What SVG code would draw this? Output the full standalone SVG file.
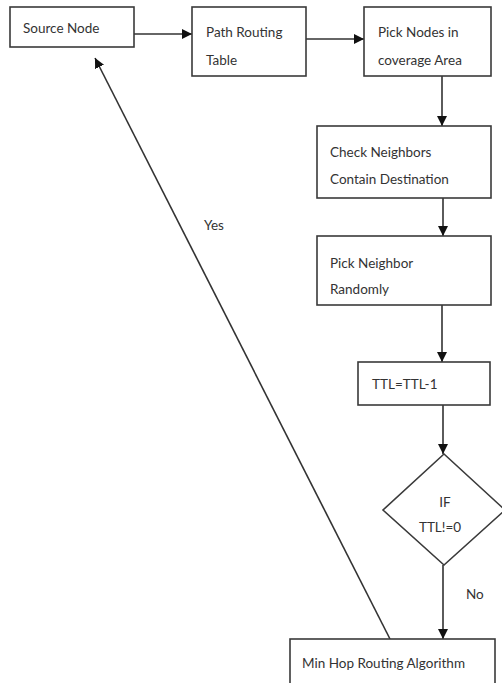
<svg xmlns="http://www.w3.org/2000/svg" width="502" height="683" viewBox="0 0 502 683">
<defs>
<style>
.box{fill:#fff;stroke:#3a3a3a;stroke-width:1.6}
.t{font-family:Lato,"Liberation Sans",sans-serif;font-size:13.5px;fill:#333}
.c{stroke:#333;stroke-width:1.6;fill:none;marker-end:url(#ah)}
</style>
<marker id="ah" viewBox="0 0 10 10" refX="10" refY="5" markerWidth="10" markerHeight="10" markerUnits="userSpaceOnUse" orient="auto">
<path d="M0,0 L10,5 L0,10 z" fill="#111"/>
</marker>
</defs>
<rect width="502" height="683" fill="#fff"/>
<g id="connectors">
<line class="c" x1="134" y1="34" x2="192" y2="34"/>
<line class="c" x1="306" y1="39" x2="364" y2="39"/>
<line class="c" x1="442" y1="76" x2="442" y2="126"/>
<line class="c" x1="443" y1="198" x2="443" y2="236"/>
<line class="c" x1="442" y1="305" x2="442" y2="362"/>
<line class="c" x1="443" y1="405" x2="443" y2="454"/>
<line class="c" x1="443" y1="565" x2="443" y2="639"/>
<line class="c" x1="390" y1="639" x2="95" y2="58"/>
<text class="t" x="204" y="230">Yes</text>
<text class="t" x="466" y="599">No</text>
</g>
<g id="source-node">
<rect class="box" x="10" y="7" width="124" height="40"/>
<text class="t" x="23" y="33">Source Node</text>
</g>
<g id="path-routing-table">
<rect class="box" x="192" y="7" width="114" height="69"/>
<text class="t" x="206" y="37">Path Routing</text>
<text class="t" x="206" y="65">Table</text>
</g>
<g id="pick-nodes">
<rect class="box" x="364" y="7" width="127" height="69"/>
<text class="t" x="378" y="37">Pick Nodes in</text>
<text class="t" x="378" y="65">coverage Area</text>
</g>
<g id="check-neighbors">
<rect class="box" x="317" y="126" width="174" height="72"/>
<text class="t" x="330" y="157">Check Neighbors</text>
<text class="t" x="330" y="184">Contain Destination</text>
</g>
<g id="pick-neighbor">
<rect class="box" x="317" y="236" width="174" height="69"/>
<text class="t" x="330" y="268">Pick Neighbor</text>
<text class="t" x="330" y="294">Randomly</text>
</g>
<g id="ttl-decrement">
<rect class="box" x="358" y="362" width="132" height="43"/>
<text class="t" x="372" y="389">TTL=TTL-1</text>
</g>
<g id="if-ttl">
<polygon class="box" points="444,454 505,510 444,565 383,510"/>
<text class="t" x="445" y="507" text-anchor="middle">IF</text>
<text class="t" x="440" y="532" text-anchor="middle">TTL!=0</text>
</g>
<g id="min-hop">
<rect class="box" x="290" y="639" width="205" height="60"/>
<text class="t" x="302" y="668">Min Hop Routing Algorithm</text>
</g>
</svg>
